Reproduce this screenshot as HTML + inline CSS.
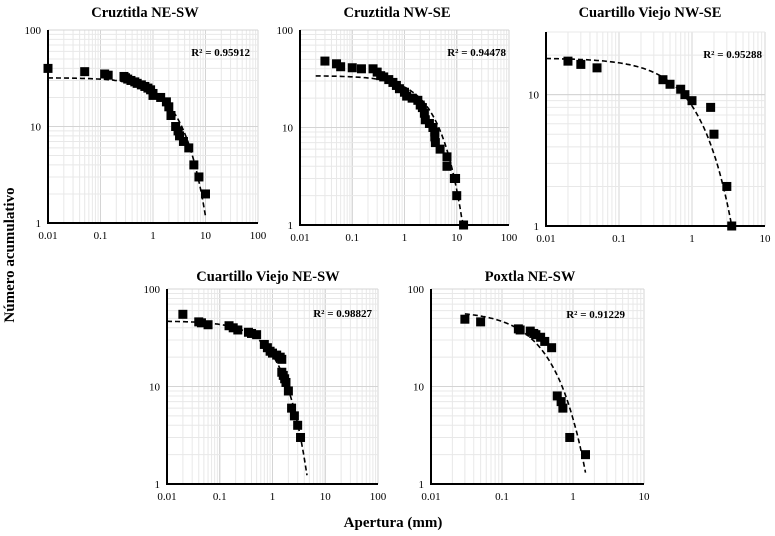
<!DOCTYPE html>
<html><head><meta charset="utf-8"><style>
html,body{margin:0;padding:0;background:#fff;}
svg{display:block;font-family:"Liberation Serif",serif;}
</style></head><body>
<svg id="chart" width="775" height="536" viewBox="0 0 775 536">
<text x="14" y="255" transform="rotate(-90 14 255)" text-anchor="middle" font-size="15" font-weight="bold">Número acumulativo</text>
<text x="393" y="527" text-anchor="middle" font-size="15" font-weight="bold">Apertura (mm)</text>
</svg>
<script>
// Panel 1: Cruztitla NE-SW
const p1X=[0.01,0.05,0.12,0.14,0.28,0.3,0.33,0.38,0.45,0.5,0.6,0.7,0.8,0.9,1.0,1.0,1.4,1.8,2.0,2.2,2.7,3.0,3.2,3.8,4.8,6,7.5,10];
const p1Y=[40,37,35,34,33,32,31,30,29,28,27,26,25,24,22,21,20,18,16,13,10,9,8,7,6,4,3,2];
// Panel 2: Cruztitla NW-SE
const p2X=[0.03,0.05,0.06,0.1,0.15,0.25,0.3,0.35,0.4,0.5,0.6,0.7,0.8,1,1.1,1.4,1.8,2,2.2,2.4,2.5,3,3.5,3.8,3.8,3.9,4.8,6.5,6.5,9,9.5,10,13.5];
const p2Y=[48,45,42,41,40,40,37,34,33,31,29,27,25,23,21,20,19,17,16,14,12,11,10,9,8,7,6,5,4,3,3,2,1];
// Panel 3: Cuartillo Viejo NW-SE
const p3X=[0.02,0.03,0.05,0.4,0.5,0.7,0.8,1,1.8,2,3,3.5];
const p3Y=[18,17,16,13,12,11,10,9,8,5,2,1];
// Panel 4: Cuartillo Viejo NE-SW
const p4X=[0.02,0.04,0.045,0.06,0.15,0.18,0.22,0.35,0.4,0.5,0.7,0.8,0.9,1.0,1.2,1.4,1.5,1.5,1.6,1.7,1.8,2,2.3,2.6,3,3.4];
const p4Y=[55,46,45,43,42,40,38,36,35,34,27,25,23,22,21,20,19,14,13,12,11,9,6,5,4,3];
// Panel 5: Poxtla NE-SW
const p5X=[0.03,0.05,0.17,0.18,0.25,0.28,0.3,0.35,0.4,0.5,0.6,0.68,0.72,0.9,1.5];
const p5Y=[49,46,39,38,37,35,34,32,29,25,8,7,6,3,2];
// Trendline parameters N = a*exp(-b*x)
const fitA=[32,34,19,47,60];
const fitB=[0.33,0.27,0.84,0.81,2.55];
const fitFrom=[0.01,0.02,0.01,0.01,0.03];
const fitTo=[10,13.5,3.5,4.5,1.5];
const titles=["Cruztitla NE-SW","Cruztitla NW-SE","Cuartillo Viejo NW-SE","Cuartillo Viejo NE-SW","Poxtla NE-SW"];
const r2Labels=["R² = 0.95912","R² = 0.94478","R² = 0.95288","R² = 0.98827","R² = 0.91229"];
const xTickVals=[[0.01,0.1,1,10,100],[0.01,0.1,1,10,100],[0.01,0.1,1,10],[0.01,0.1,1,10,100],[0.01,0.1,1,10]];
const xTickLabels=[["0.01","0.1","1","10","100"],["0.01","0.1","1","10","100"],["0.01","0.1","1","10"],["0.01","0.1","1","10","100"],["0.01","0.1","1","10"]];
const yTickVals=[[1,10,100],[1,10,100],[1,10],[1,10,100],[1,10,100]];
const yTickLabels=[["1","10","100"],["1","10","100"],["1","10"],["1","10","100"],["1","10","100"]];
const xs=[p1X,p2X,p3X,p4X,p5X], ys=[p1Y,p2Y,p3Y,p4Y,p5Y];
// layout
const L=[
 {l:48,r:258,t:30,b:223,xmin:0.01,xmax:100,ymin:1,ymax:100,tx:145,ty:17,rx:250,ry:56},
 {l:300,r:509,t:30,b:225,xmin:0.01,xmax:100,ymin:1,ymax:100,tx:397,ty:17,rx:506,ry:56},
 {l:546,r:765,t:32,b:226,xmin:0.01,xmax:10,ymin:1,ymax:30,tx:650,ty:17,rx:762,ry:58},
 {l:167,r:378,t:289,b:484,xmin:0.01,xmax:100,ymin:1,ymax:100,tx:268,ty:281,rx:372,ry:317},
 {l:431,r:644,t:289,b:484,xmin:0.01,xmax:10,ymin:1,ymax:100,tx:530,ty:281,rx:625,ry:318}
];
const NS="http://www.w3.org/2000/svg";
const svg=document.getElementById('chart');
function mk(tag,attrs,parent){const e=document.createElementNS(NS,tag);for(const k in attrs)e.setAttribute(k,attrs[k]);(parent||svg).appendChild(e);return e;}
L.forEach((g,i)=>{
 const sx=v=>g.l+(Math.log10(v)-Math.log10(g.xmin))/(Math.log10(g.xmax)-Math.log10(g.xmin))*(g.r-g.l);
 const sy=v=>g.b-(Math.log10(v)-Math.log10(g.ymin))/(Math.log10(g.ymax)-Math.log10(g.ymin))*(g.b-g.t);
 const grp=mk('g',{});
 
 
 // grid
 for(let d=Math.log10(g.xmin);d<Math.log10(g.xmax);d++){for(let m=1;m<=10;m++){const v=m*Math.pow(10,d);const x=sx(v);
  const ln=mk('line',{x1:x,x2:x,y1:g.t,y2:g.b,stroke:m===1||m===10?'#d4d4d4':'#e8e8e8','stroke-width':1},grp);
  }}
 for(let d=0;Math.pow(10,d)<g.ymax;d++){for(let m=1;m<=10;m++){const v=m*Math.pow(10,d);if(v>g.ymax)break;const y=sy(v);
  const ln=mk('line',{x1:g.l,x2:g.r,y1:y,y2:y,stroke:m===1||m===10?'#d4d4d4':'#e8e8e8','stroke-width':1},grp);
  }}
 // axes
 const ax=mk('path',{d:`M${g.l},${g.t}V${g.b}H${g.r}`,fill:'none',stroke:'#000','stroke-width':2},grp);
 
 xTickVals[i].forEach((v,j)=>{const t=mk('text',{x:sx(v),y:g.b+16,'text-anchor':'middle','font-size':11},grp);t.textContent=xTickLabels[i][j];
  });
 yTickVals[i].forEach((v,j)=>{const t=mk('text',{x:g.l-7,y:sy(v)+4,'text-anchor':'end','font-size':11},grp);t.textContent=yTickLabels[i][j];
  });
 // trendline
 let d='';const n=80;const lf=Math.log10(fitFrom[i]),lt=Math.log10(fitTo[i]);
 for(let k=0;k<=n;k++){const x=Math.pow(10,lf+(lt-lf)*k/n);const y=Math.max(fitA[i]*Math.exp(-fitB[i]*x),g.ymin);d+=(k?'L':'M')+sx(x).toFixed(1)+','+sy(y).toFixed(1);}
 const tl=mk('path',{d:d,fill:'none',stroke:'#000','stroke-width':1.6,'stroke-dasharray':'5,3'},grp);
 
 // points
 xs[i].forEach((x,j)=>{const r=mk('rect',{x:sx(x)-4.5,y:sy(ys[i][j])-4.5,width:9,height:9,fill:'#000'},grp);
  });
 const tt=mk('text',{x:g.tx,y:g.ty,'text-anchor':'middle','font-size':14.5,'font-weight':'bold'},grp);tt.textContent=titles[i];
 
 const rr=mk('text',{x:g.rx,y:g.ry,'text-anchor':'end','font-size':11,'font-weight':'bold'},grp);rr.textContent=r2Labels[i];
 
});
</script>
</body></html>
